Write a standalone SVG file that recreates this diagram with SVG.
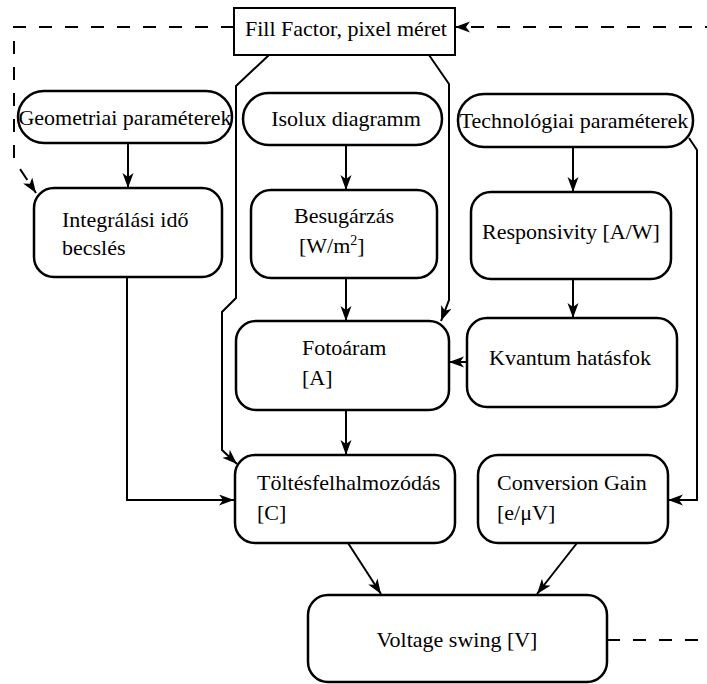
<svg xmlns="http://www.w3.org/2000/svg" width="707" height="684" viewBox="0 0 707 684">
  <style>
    .node { fill: #fff; stroke: #000; stroke-width: 2.5; }
    .box { fill: #fff; stroke: #000; stroke-width: 2; }
    .lbl { font-family: "Liberation Serif", "Times New Roman", serif; font-size: 22px; fill: #000; }
    .mid { text-anchor: middle; }
    .edge { fill: none; stroke: #000; stroke-width: 2; }
    .dash { stroke-dasharray: 13 13; }
  </style>
  <defs>
    <marker id="arrow" markerUnits="userSpaceOnUse" markerWidth="16" markerHeight="12" refX="15" refY="5.5" orient="auto">
      <path d="M0,0 L15,5.5 L0,11 L4,5.5 Z" fill="#000"/>
    </marker>
  </defs>
  <rect width="707" height="684" fill="#fff"/>

  <!-- connectors -->
  <g id="connectors">
    <path class="edge" d="M128,143 V188" marker-end="url(#arrow)"/>
    <path class="edge" d="M346,145 V190" marker-end="url(#arrow)"/>
    <path class="edge" d="M573,147 V192" marker-end="url(#arrow)"/>
    <path class="edge" d="M346,278 V321" marker-end="url(#arrow)"/>
    <path class="edge" d="M573,279 V318" marker-end="url(#arrow)"/>
    <path class="edge" d="M467,362 H449" marker-end="url(#arrow)"/>
    <path class="edge" d="M269,55 L236,86 V298 L222,312 V450 L237,464" marker-end="url(#arrow)"/>
    <path class="edge" d="M429,55 L449,84 V300 L441,321" marker-end="url(#arrow)"/>
    <path class="edge" d="M127,277 V500 H234" marker-end="url(#arrow)"/>
    <path class="edge" d="M346,410 V455" marker-end="url(#arrow)"/>
    <path class="edge" d="M689,138 L697,150 V500 H668" marker-end="url(#arrow)"/>
    <path class="edge" d="M348,543 L381,594" marker-end="url(#arrow)"/>
    <path class="edge" d="M577,543 L537,594" marker-end="url(#arrow)"/>
    <path class="edge dash" d="M234,27 H14 V160 L36,193" marker-end="url(#arrow)"/>
    <path class="edge dash" d="M607,640 H720 V27 H455" marker-end="url(#arrow)"/>
  </g>

  <g id="fill-factor">
    <rect class="box" x="234" y="8" width="221" height="47"/>
    <text class="lbl mid" x="346" y="36">Fill Factor, pixel méret</text>
  </g>
  <g id="geometriai">
    <rect class="node" x="18" y="91" width="214" height="52" rx="26"/>
    <text class="lbl mid" x="125" y="125">Geometriai paraméterek</text>
  </g>
  <g id="isolux">
    <rect class="node" x="243" y="93" width="199" height="52" rx="26"/>
    <text class="lbl mid" x="346" y="126">Isolux diagramm</text>
  </g>
  <g id="technologiai">
    <rect class="node" x="458" y="94" width="235" height="53" rx="26"/>
    <text class="lbl mid" x="574" y="128">Technológiai paraméterek</text>
  </g>
  <g id="integralasi">
    <rect class="node" x="34" y="188" width="188" height="89" rx="20"/>
    <text class="lbl" x="62" y="227">Integrálási idő</text>
    <text class="lbl" x="62" y="255">becslés</text>
  </g>
  <g id="besugarzas">
    <rect class="node" x="251" y="190" width="186" height="88" rx="20"/>
    <text class="lbl" x="294" y="223">Besugárzás</text>
    <text class="lbl" x="299" y="253">[W/m<tspan dy="-8" font-size="14">2</tspan><tspan dy="8">]</tspan></text>
  </g>
  <g id="responsivity">
    <rect class="node" x="471" y="192" width="200" height="87" rx="20"/>
    <text class="lbl mid" x="571" y="239">Responsivity [A/W]</text>
  </g>
  <g id="fotoaram">
    <rect class="node" x="236" y="321" width="213" height="89" rx="20"/>
    <text class="lbl" x="302" y="355">Fotoáram</text>
    <text class="lbl" x="302" y="385">[A]</text>
  </g>
  <g id="kvantum">
    <rect class="node" x="467" y="318" width="210" height="89" rx="20"/>
    <text class="lbl mid" x="570" y="365">Kvantum hatásfok</text>
  </g>
  <g id="toltes">
    <rect class="node" x="235" y="455" width="220" height="88" rx="20"/>
    <text class="lbl" x="257" y="490">Töltésfelhalmozódás</text>
    <text class="lbl" x="257" y="520">[C]</text>
  </g>
  <g id="conversion">
    <rect class="node" x="478" y="455" width="190" height="88" rx="20"/>
    <text class="lbl" x="497" y="490">Conversion Gain</text>
    <text class="lbl" x="497" y="520">[e/μV]</text>
  </g>
  <g id="voltage">
    <rect class="node" x="308" y="595" width="299" height="87" rx="20"/>
    <text class="lbl mid" x="457" y="647">Voltage swing [V]</text>
  </g>
</svg>
